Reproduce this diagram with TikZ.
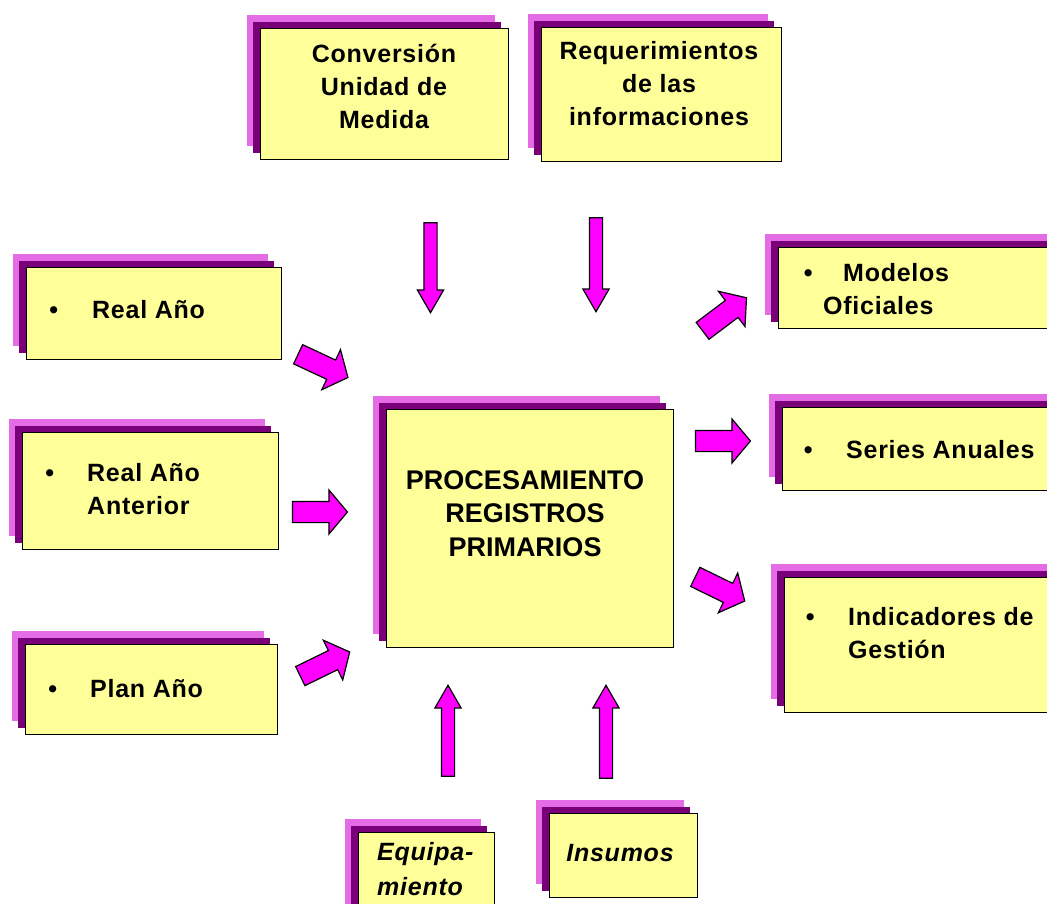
\documentclass[tikz,border=0pt]{standalone}
\usepackage{fontspec}
\setmainfont{Liberation Sans}
\newfontfamily\boxfont{Liberation Sans}[LetterSpace=3]
\usetikzlibrary{shapes.arrows,shadows}
\definecolor{boxyellow}{HTML}{FFFF99}
\definecolor{shadowpurple}{HTML}{7A007A}
\definecolor{shadowpink}{HTML}{E46CE4}
\definecolor{arrowmag}{HTML}{FF00FF}
\tikzset{
  card/.style={draw=black, line width=1.4pt, fill=boxyellow, inner sep=0pt, anchor=north west,
    general shadow={fill=shadowpink, shadow xshift=-14pt, shadow yshift=14pt},
    general shadow={fill=shadowpurple, shadow xshift=-8pt, shadow yshift=7pt}},
  boxtext/.style={font=\boxfont\bfseries\fontsize{25}{33}\selectfont, inner sep=0pt, align=left},
  boxtextit/.style={font=\boxfont\bfseries\itshape\fontsize{25}{35}\selectfont, inner sep=0pt, align=left},
  maintext/.style={font=\bfseries\fontsize{27}{33.5}\selectfont, inner sep=0pt, align=center},
  barrow/.style n args={4}{single arrow, draw=black, line width=1.2pt, fill=arrowmag,
    inner xsep=0pt, inner ysep=#2, minimum height=#1, single arrow head extend=#3, single arrow tip angle=#4},
  bigarrow/.style={barrow={55pt}{10pt}{11.5pt}{100}},
  longarrow/.style={barrow={#1}{6pt}{6.5pt}{60}}
}
\begin{document}
\begin{tikzpicture}[x=1pt,y=-1pt]
\path[use as bounding box] (0,0) rectangle (1047,904);
\clip (0,0) rectangle (1047,904);
\fill[white] (0,0) rectangle (1047,904);

% boxes
\node[card, minimum width=248pt, minimum height=131pt] (conv) at (260,28) {};
\node[card, minimum width=240pt, minimum height=134pt] (req) at (541,27) {};
\node[card, minimum width=255pt, minimum height=92pt] (real) at (26,267) {};
\node[card, minimum width=256pt, minimum height=117pt] (ant) at (22,432) {};
\node[card, minimum width=252pt, minimum height=90pt] (plan) at (25,644) {};
\node[card, minimum width=287pt, minimum height=238pt] (proc) at (386,409) {};
\node[card, minimum width=290pt, minimum height=81pt] (mod) at (778,247) {};
\node[card, minimum width=290pt, minimum height=83pt] (ser) at (782,407) {};
\node[card, minimum width=290pt, minimum height=135pt] (ind) at (784,577) {};
\node[card, minimum width=136pt, minimum height=95pt] (equ) at (358,832) {};
\node[card, minimum width=148pt, minimum height=84pt] (ins) at (549,813) {};

% texts
\node[boxtext, align=center] (convt) at (384,86) {Conversión\\Unidad de\\Medida};
\node[boxtext, align=center] (reqt) at (659,84) {Requerimientos\\de las\\informaciones};
\node[maintext] (proct) at (525,513.5) {PROCESAMIENTO\\REGISTROS\\PRIMARIOS};
\node[boxtext, anchor=base west] (realt) at (92,318) {\llap{•\hspace{34pt}}Real Año};
\node[boxtext, anchor=west] (antt) at (87,489) {\llap{•\hspace{33pt}}Real Año\\Anterior};
\node[boxtext, anchor=base west] (plant) at (90,697) {\llap{•\hspace{33pt}}Plan Año};
\node[boxtext, anchor=west] (modt) at (823,289) {\llap{•\hspace{10.6pt}}\hspace{20pt}Modelos\\Oficiales};
\node[boxtext, anchor=base west] (sert) at (846,458) {\llap{•\hspace{33.6pt}}Series Anuales};
\node[boxtext, anchor=west] (indt) at (848,633) {\llap{•\hspace{33.6pt}}Indicadores de\\Gestión};
\node[boxtextit, anchor=west] (equt) at (377,869.5) {Equipa-\\miento};
\node[boxtextit, anchor=base] (inst) at (620,861) {Insumos};

% block arrows
\node[bigarrow, rotate=-25] (arReal) at (319,364) {};
\node[bigarrow] (arAnt) at (315.5,512) {};
\node[bigarrow, rotate=26] (arPlan) at (321,666) {};
\node[bigarrow, rotate=37] (arMod) at (721,317) {};
\node[bigarrow] (arSer) at (718.5,441) {};
\node[bigarrow, rotate=-26] (arInd) at (716,587) {};
\node[longarrow={90pt}, rotate=-90] (arConv) at (430.5,262) {};
\node[longarrow={94pt}, rotate=-90] (arReq) at (596,259) {};
\node[longarrow={91pt}, rotate=90] (arEqu) at (448,736.5) {};
\node[longarrow={93pt}, rotate=90] (arIns) at (606,737.5) {};
\end{tikzpicture}
\end{document}
